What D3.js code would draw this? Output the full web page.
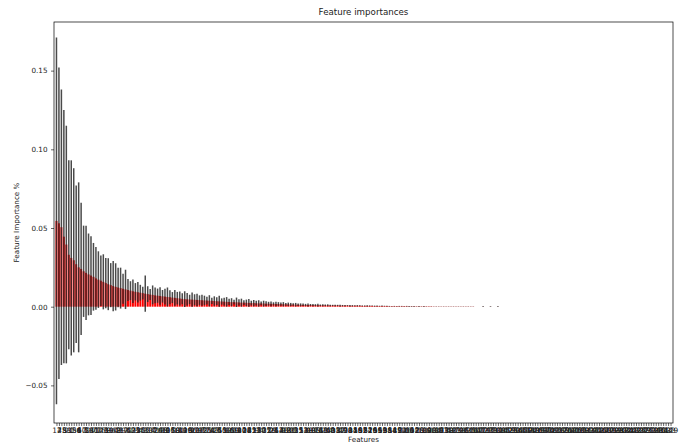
<!DOCTYPE html>
<html>
<head>
<meta charset="utf-8">
<script src="https://cdn.jsdelivr.net/npm/d3@7"></script>
<style>
  body { margin: 0; background: #fff; }
  text { font-family: "DejaVu Sans", sans-serif; }
</style>
</head>
<body>
<div id="chart"></div>
<script>
// importances (sorted)
var importances = [
  .0545,.0530,.0505,.0445,.0395,.0330,.0310,.0295,.0270,.0250, .0240,.0225,.0215,.0205,.0198,.0190,.0180,.0172,.0165,.0158,
  .0150,.0143,.0137,.0131,.0126,.0122,.0118,.0114,.0110,.0106, .0102,.0098,.0095,.0092,.0089,.0086,.0083,.0080,.0077,.0075,
  .0072,.0070,.0068,.0066,.0064,.0062,.0060,.0058,.0056,.0054, .0052,.0050,.0048,.0047,.0046,.0045,.0044,.0043,.0042,.0041,
  .0040,.0039,.0038,.0037,.0036,.0035,.0034,.0033,.0032,.0031, .0030,.0029,.0029,.0028,.0027,.0026,.0026,.0025,.0024,.0023,
  .0023,.0022,.0021,.0021,.0020,.0019,.0019,.0018,.0018,.0017, .0017,.0016,.0016,.0015,.0015,.0014,.0014,.0013,.0013,.0012,
  .0012,.0011,.0011,.0011,.0010,.0010,.0010,.0009,.0009,.0009, .0009,.0008,.0008,.0008,.0008,.0007,.0007,.0007,.0007,.0006,
  .0006,.0006,.0006,.0006,.0005,.0005,.0005,.0005,.0005,.0004, .0004,.0004,.0004,.0004,.0004,.0003,.0003,.0003,.0003,.0003,
  .0003,.0003,.0003,.0002,.0002,.0002,.0002,.0002,.0002,.0002, .0002,.0002,.0002,.0001,.0001,.0001,.0001,.0001,.0001,.0001,
  .0001,.0001,.0001,.0001,.0001,.0001,.0001,.0001,.0001,.0001, 0,0,0,.00005,0,0,.00005,0,0,.00005,
  0,0,0,0,0,0,0,0,0,0, 0,0,0,0,0,0,0,0,0,0,
  0,0,0,0,0,0,0,0,0,0, 0,0,0,0,0,0,0,0,0,0,
  0,0,0,0,0,0,0,0,0,0, 0,0,0,0,0,0,0,0,0,0,
  0,0,0,0,0,0,0,0,0,0
];

// standard deviations across trees
var stds = [
  .1165,.0990,.0875,.0805,.0755,.0600,.0620,.0585,.0500,.0540, .0420,.0290,.0300,.0260,.0250,.0215,.0200,.0180,.0160,.0175,
  .0160,.0165,.0140,.0160,.0150,.0125,.0130,.0095,.0125,.0070, .0060,.0075,.0055,.0065,.0050,.0040,.0115,.0050,.0035,.0060,
  .0050,.0045,.0055,.0040,.0050,.0060,.0045,.0035,.0050,.0040, .0045,.0035,.0050,.0040,.0030,.0045,.0035,.0040,.0030,.0035,
  .0030,.0025,.0035,.0020,.0030,.0025,.0035,.0020,.0025,.0030, .0020,.0025,.0015,.0030,.0020,.0025,.0015,.0020,.0025,.0015,
  .0020,.0015,.0020,.0012,.0018,.0015,.0012,.0015,.0010,.0014, .0012,.0010,.0013,.0009,.0011,.0010,.0008,.0011,.0008,.0009,
  .0008,.0007,.0009,.0006,.0007,.0006,.0008,.0005,.0006,.0005, .0006,.0005,.0004,.0005,.0004,.0005,.0004,.0004,.0003,.0004,
  .0004,.0003,.0004,.0003,.0003,.0003,.0004,.0003,.0002,.0003, .0003,.0002,.0003,.0002,.0002,.0002,.0002,.0002,.0002,.0002,
  .0002,.0002,.0002,.0002,.0002,.0002,.0001,.0002,.0001,.0002, .0001,.0001,.0001,.0001,.0001,.0001,.0001,.0001,.0001,.0001,
  .0001,.0001,.0001,.0001,.0001,.0001,.0001,.0001,.0001,.0001, 0,0,0,.0002,0,0,.0002,0,0,.0002,
  0,0,0,0,0,0,0,0,0,0, 0,0,0,0,0,0,0,0,0,0,
  0,0,0,0,0,0,0,0,0,0, 0,0,0,0,0,0,0,0,0,0,
  0,0,0,0,0,0,0,0,0,0, 0,0,0,0,0,0,0,0,0,0,
  0,0,0,0,0,0,0,0,0,0
];

// feature index shown under each bar
var featureLabels = [
  12,7,45,3,88,21,0,156,34,9,67,102,5,18,230,41,77,1,143,26,59,8,190,14,63,
  2,99,37,121,6,48,175,23,84,11,205,52,30,137,4,71,16,248,95,39,166,27,110,58,13,
  81,44,199,20,130,66,10,217,36,92,151,25,74,183,47,15,240,55,118,32,86,160,19,69,227,
  40,107,28,145,61,222,17,94,50,171,35,126,79,24,212,57,140,43,97,186,31,65,235,22,113,
  53,148,29,90,195,38,73,163,46,124,243,60,101,33,177,82,49,208,70,134,42,115,56,192,87,
  154,62,229,76,105,51,169,93,138,68,214,54,119,85,181,72,246,100,64,158,91,128,75,201,109,
  80,146,98,224,116,89,173,104,132,78,197,111,83,238,122,96,161,135,106,210,117,141,103,179,127,
  112,233,150,131,188,120,165,142,219,125,153,136,203,147,244,159,133,174,149,226,139,167,157,193,144,
  178,211,162,236,152,185,170,198,168,241,176,206,155,189,221,182,164,231,194,172,216,187,200,247,180,
  209,191,228,196,237,204,184,220,213,242,202,225,207,249,215,232,218,239,223,245,234,108,114,123,129
];

var yTicks = [-0.05, 0.00, 0.05, 0.10, 0.15];

var W = 680, H = 445;
var margin = {top: 22, right: 7, bottom: 22, left: 54},
    width = W - margin.left - margin.right,
    height = H - margin.top - margin.bottom;

var svg = d3.select("#chart")
  .append("svg")
    .attr("width", W)
    .attr("height", H);

var g = svg.append("g")
  .attr("transform", "translate(" + margin.left + "," + margin.top + ")");

var n = importances.length;
var x = d3.scaleLinear().domain([-1, n]).range([0, width]);
var y = d3.scaleLinear().domain([-0.0739, 0.1809]).range([height, 0]);
var step = x(1) - x(0);

// bars
g.selectAll(".bar")
  .data(importances)
  .enter()
  .append("rect")
    .attr("class", "bar")
    .attr("x", (d, i) => x(i) - step * 0.4)
    .attr("width", step * 0.8)
    .attr("y", d => y(Math.max(d, 0)))
    .attr("height", d => Math.abs(y(d) - y(0)))
    .attr("fill", "#ff0000");

// error bars
g.selectAll(".err")
  .data(importances)
  .enter()
  .append("line")
    .attr("class", "err")
    .attr("x1", (d, i) => x(i))
    .attr("x2", (d, i) => x(i))
    .attr("y1", (d, i) => y(d - stds[i]))
    .attr("y2", (d, i) => y(d + stds[i]))
    .attr("stroke", "#2a2a2a")
    .attr("stroke-opacity", 0.85)
    .attr("stroke-width", 1.5);

// axes
var xAxis = g.append("g")
  .attr("transform", "translate(0," + height + ")")
  .call(d3.axisBottom(x)
    .tickValues(featureLabels.map((d, i) => i))
    .tickFormat(i => featureLabels[i])
    .tickSize(3)
    .tickPadding(2));
xAxis.select(".domain").remove();
xAxis.selectAll("line").attr("stroke-width", 0.6);
xAxis.selectAll("text").style("font-size", "7.4px").attr("fill", "#222");

var yAxis = g.append("g")
  .call(d3.axisLeft(y)
    .tickValues(yTicks)
    .tickFormat(d3.format(".2f"))
    .tickSize(3)
    .tickPadding(3.5));
yAxis.select(".domain").remove();
yAxis.selectAll("line").attr("stroke-width", 0.6);
yAxis.selectAll("text").style("font-size", "7.2px").attr("fill", "#222");

// frame
g.append("rect")
  .attr("x", 0).attr("y", 0)
  .attr("width", width).attr("height", height)
  .attr("fill", "none")
  .attr("stroke", "#000")
  .attr("stroke-width", 0.7);

// title and labels
svg.append("text")
  .attr("x", margin.left + width / 2)
  .attr("y", 15)
  .attr("text-anchor", "middle")
  .attr("fill", "#222")
  .style("font-size", "8.7px")
  .text("Feature importances");

svg.append("text")
  .attr("x", margin.left + width / 2)
  .attr("y", 442)
  .attr("text-anchor", "middle")
  .attr("fill", "#222")
  .style("font-size", "7.2px")
  .text("Features");

svg.append("text")
  .attr("transform", "translate(19," + (margin.top + height / 2) + ")rotate(-90)")
  .attr("text-anchor", "middle")
  .attr("fill", "#222")
  .style("font-size", "7.2px")
  .text("Feature Importance %");
</script>
</body>
</html>
